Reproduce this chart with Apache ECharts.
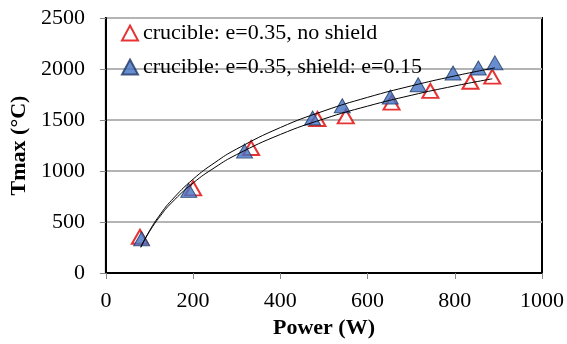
<!DOCTYPE html>
<html>
<head>
    <meta charset="UTF-8">
    <title>Tmax vs Power</title>
    <script src="https://cdn.jsdelivr.net/npm/echarts@6/dist/echarts.min.js"></script>
    <style>
        html, body { margin: 0; padding: 0; background: #fff; }
        #main { width: 567px; height: 344px; }
    </style>
</head>
<body>
<div id="main"></div>
<script type="text/javascript">
    // measured points, [Power (W), Tmax (°C)]
    var noShield = [[78, 355], [200, 830], [333, 1225], [485, 1510], [550, 1535],
        [655, 1670], [744, 1785], [836, 1875], [886, 1925]];
    var shield = [[82, 335], [190, 810], [318, 1195], [474, 1520], [542, 1640],
        [652, 1725], [716, 1845], [796, 1960], [854, 2010], [892, 2060]];

    // trend lines
    var trendNoShield = [[80, 254], [100, 407], [125, 560], [150, 686], [200, 882], [250, 1035],
        [300, 1161], [400, 1358], [500, 1511], [600, 1636], [700, 1742], [800, 1834], [886, 1904]];
    var trendShield = [[80, 251], [100, 414], [125, 577], [150, 710], [200, 920], [250, 1083],
        [300, 1216], [400, 1426], [500, 1589], [600, 1722], [700, 1834], [800, 1932], [892, 2011]];

    var names = ['crucible: e=0.35, no shield', 'crucible: e=0.35, shield: e=0.15'];
    var font = 'Liberation Serif';

    function plain(v) { return String(v); }

    var myChart = echarts.init(document.getElementById('main'));
    var option = {
        animation: false,
        textStyle: { fontFamily: font },
        grid: {
            left: 105, right: 25, top: 18, bottom: 70,
            show: true, borderColor: '#000', borderWidth: 2
        },
        legend: {
            data: names,
            orient: 'vertical',
            left: 116, top: 17,
            itemWidth: 16, itemHeight: 15,
            itemGap: 12,
            textStyle: { fontFamily: font, fontSize: 22, color: '#000' }
        },
        xAxis: {
            type: 'value',
            min: 0, max: 1000, interval: 200,
            name: 'Power (W)',
            nameLocation: 'middle',
            nameGap: 44,
            nameTextStyle: { fontFamily: font, fontSize: 22, fontWeight: 'bold', color: '#000' },
            axisLine: { show: true, lineStyle: { color: '#000', width: 2 } },
            axisTick: { show: true, length: 6, lineStyle: { color: '#888' } },
            axisLabel: { margin: 17, fontFamily: font, fontSize: 22, color: '#000', formatter: plain },
            splitLine: { show: false }
        },
        yAxis: {
            type: 'value',
            min: 0, max: 2500, interval: 500,
            name: 'Tmax (°C)',
            nameLocation: 'middle',
            nameGap: 67,
            nameTextStyle: { fontFamily: font, fontSize: 22, fontWeight: 'bold', color: '#000' },
            axisLine: { show: true, lineStyle: { color: '#000', width: 2 } },
            axisTick: { show: true, length: 6, lineStyle: { color: '#888' } },
            axisLabel: { margin: 21, fontFamily: font, fontSize: 22, color: '#000', formatter: plain },
            splitLine: { show: true, lineStyle: { color: '#b4b4b4', width: 2 } }
        },
        series: [
            {
                name: names[0],
                type: 'scatter',
                data: noShield,
                symbol: 'triangle',
                symbolSize: [16, 14],
                itemStyle: { color: '#fff', borderColor: '#e00000', borderWidth: 2 },
                z: 2
            },
            {
                name: names[1],
                type: 'scatter',
                data: shield,
                symbol: 'triangle',
                symbolSize: [16, 14],
                itemStyle: { color: '#4472c4', borderColor: '#1f3864', borderWidth: 1 },
                z: 3
            },
            {
                type: 'line',
                data: trendNoShield,
                smooth: true,
                symbol: 'none',
                lineStyle: { color: '#000', width: 1 },
                z: 4
            },
            {
                type: 'line',
                data: trendShield,
                smooth: true,
                symbol: 'none',
                lineStyle: { color: '#000', width: 1 },
                z: 4
            }
        ]
    };
    myChart.setOption(option);
</script>
</body>
</html>
